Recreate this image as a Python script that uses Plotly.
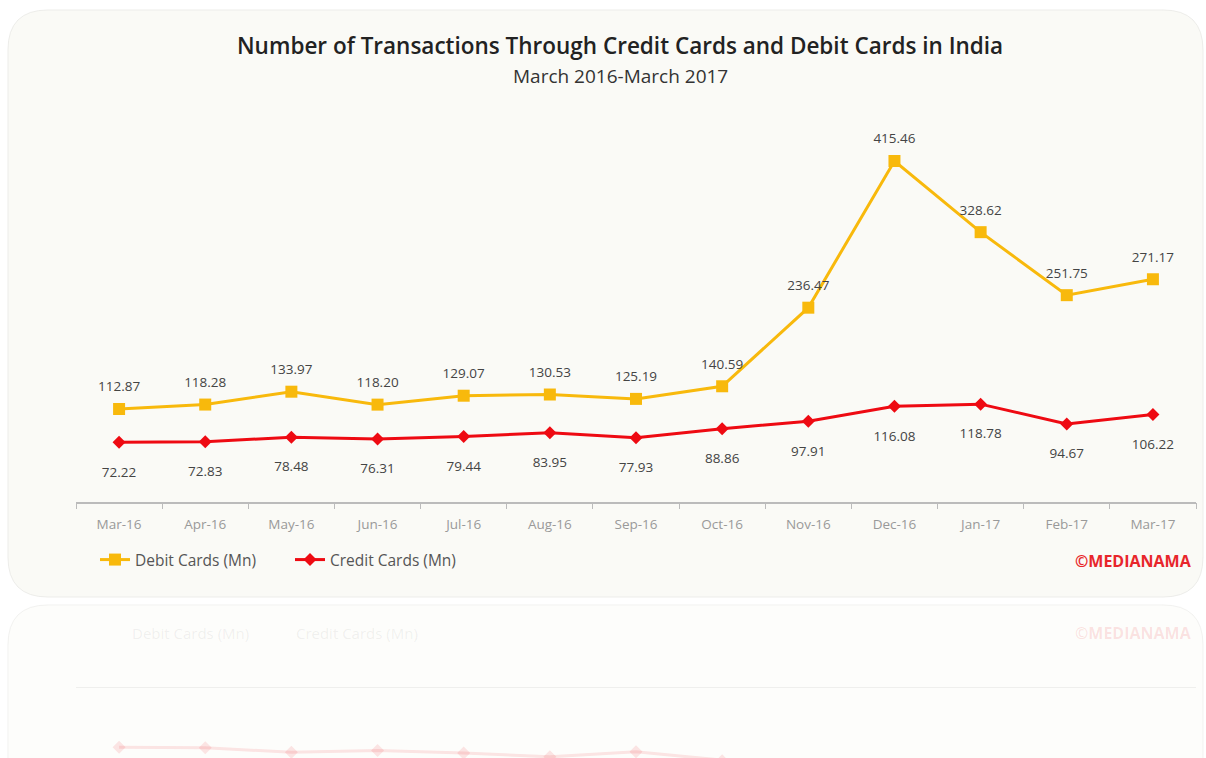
import plotly.graph_objects as go

months = ["Mar-16", "Apr-16", "May-16", "Jun-16", "Jul-16", "Aug-16", "Sep-16",
          "Oct-16", "Nov-16", "Dec-16", "Jan-17", "Feb-17", "Mar-17"]
debit = [112.87, 118.28, 133.97, 118.20, 129.07, 130.53, 125.19,
         140.59, 236.47, 415.46, 328.62, 251.75, 271.17]
credit = [72.22, 72.83, 78.48, 76.31, 79.44, 83.95, 77.93,
          88.86, 97.91, 116.08, 118.78, 94.67, 106.22]

DEBIT_C = "#F8B90C"
CREDIT_C = "#EE0A12"
FONT = "Open Sans"
W, H = 1206, 758

def py(px):
    return (H - px) / H

fig = go.Figure()

# main traces
fig.add_trace(go.Scatter(
    x=months, y=debit, name="Debit Cards (Mn)", mode="lines+markers",
    line=dict(color=DEBIT_C, width=3), marker=dict(symbol="square", size=12, color=DEBIT_C),
    xaxis="x", yaxis="y", cliponaxis=False))
fig.add_trace(go.Scatter(
    x=months, y=credit, name="Credit Cards (Mn)", mode="lines+markers",
    line=dict(color=CREDIT_C, width=3), marker=dict(symbol="diamond", size=10, color=CREDIT_C),
    xaxis="x", yaxis="y", cliponaxis=False))

# data labels (transparent markers set the label offset)
fig.add_trace(go.Scatter(
    x=months, y=debit, mode="markers+text", showlegend=False, hoverinfo="skip",
    marker=dict(size=21, color="rgba(0,0,0,0)"),
    text=[f"{v:.2f}" for v in debit], textposition="top center",
    textfont=dict(family=FONT, size=13.5, color="#444"),
    xaxis="x", yaxis="y", cliponaxis=False))
fig.add_trace(go.Scatter(
    x=months, y=credit, mode="markers+text", showlegend=False, hoverinfo="skip",
    marker=dict(size=37, color="rgba(0,0,0,0)"),
    text=[f"{v:.2f}" for v in credit], textposition="bottom center",
    textfont=dict(family=FONT, size=13.5, color="#444"),
    xaxis="x", yaxis="y", cliponaxis=False))

# faint reflection traces
fig.add_trace(go.Scatter(
    x=months, y=debit, mode="lines+markers", showlegend=False, hoverinfo="skip",
    line=dict(color="rgba(248,185,12,0.10)", width=3),
    marker=dict(symbol="square", size=12, color="rgba(248,185,12,0.10)"),
    xaxis="x2", yaxis="y2"))
fig.add_trace(go.Scatter(
    x=months, y=credit, mode="lines+markers", showlegend=False, hoverinfo="skip",
    line=dict(color="rgba(238,10,18,0.10)", width=3),
    marker=dict(symbol="diamond", size=10, color="rgba(238,10,18,0.10)"),
    xaxis="x2", yaxis="y2"))

x0 = 76 / W
x1 = 1196 / W
scale = 0.8196  # px per unit
ymax = (501.5 - 91.5) / scale
xr = [-0.5, len(months) - 0.5]

fig.update_layout(
    width=W, height=H,
    margin=dict(l=0, r=0, t=0, b=0),
    paper_bgcolor="white", plot_bgcolor="rgba(0,0,0,0)",
    font=dict(family=FONT, color="#444"),
    showlegend=True,
    legend=dict(orientation="h", x=95 / W, y=py(560), xanchor="left", yanchor="middle",
                font=dict(family=FONT, size=15.5, color="#555"), bgcolor="rgba(0,0,0,0)",
                itemwidth=30, tracegroupgap=0, entrywidth=150, entrywidthmode="pixels"),
    xaxis=dict(domain=[x0, x1], type="category", range=xr, showgrid=False, zeroline=False,
               showline=True, linecolor="#BBBBBB", linewidth=1.5,
               ticks="outside", tickson="boundaries", ticklen=6, tickcolor="#BBBBBB",
               ticklabelstandoff=10,
               tickfont=dict(family=FONT, size=13.5, color="#999"), anchor="y"),
    yaxis=dict(domain=[py(501.5), py(91.5)], range=[0, ymax], visible=False,
               showgrid=False, zeroline=False, anchor="x"),
    xaxis2=dict(domain=[x0, x1], type="category", range=xr, showgrid=False, zeroline=False,
                showline=True, linecolor="rgba(187,187,187,0.2)", side="top",
                ticks="", showticklabels=False, anchor="y2"),
    yaxis2=dict(domain=[0, py(688)], range=[(758 - 688) / scale, 0], visible=False,
                showgrid=False, zeroline=False, anchor="x2"),
)

r = 40
def rrect(xa, ya, xb, yb, rad):
    return (f"M {xa+rad},{ya} L {xb-rad},{ya} Q {xb},{ya} {xb},{ya+rad} "
            f"L {xb},{yb-rad} Q {xb},{yb} {xb-rad},{yb} L {xa+rad},{yb} "
            f"Q {xa},{yb} {xa},{yb-rad} L {xa},{ya+rad} Q {xa},{ya} {xa+rad},{ya} Z")

def to_paper_path(xa, ya, xb, yb, rad):
    toks = rrect(xa, ya, xb, yb, rad).replace(",", " ").split()
    i = 0
    res = []
    while i < len(toks):
        t = toks[i]
        if t in ("M", "L", "Q", "Z"):
            res.append(t)
            i += 1
        else:
            xv = float(toks[i]) / W
            yv = (H - float(toks[i + 1])) / H
            res.append(f"{xv:.5f},{yv:.5f}")
            i += 2
    return " ".join(res)

fig.add_shape(type="path", xref="paper", yref="paper",
              path=to_paper_path(8, 10, 1203, 597, r),
              fillcolor="#FAFAF6", line=dict(color="#EDEDEA", width=1), layer="below")
fig.add_shape(type="path", xref="paper", yref="paper",
              path=to_paper_path(8, 605, 1203, 800, r),
              fillcolor="#FDFDFB", line=dict(color="#F2F2F0", width=1), layer="below")

# titles
fig.add_annotation(text="Number of Transactions Through Credit Cards and Debit Cards in India",
                   x=620 / W, y=py(46), xref="paper", yref="paper", showarrow=False,
                   font=dict(family=FONT, size=22.5, color="#222", weight=600),
                   xanchor="center", yanchor="middle")
fig.add_annotation(text="March 2016-March 2017",
                   x=620 / W, y=py(76), xref="paper", yref="paper", showarrow=False,
                   font=dict(family=FONT, size=19, color="#333"), xanchor="center", yanchor="middle")
fig.add_annotation(text="<b>©MEDIANAMA</b>",
                   x=1194 / W, y=py(561), xref="paper", yref="paper", showarrow=False,
                   font=dict(family=FONT, size=16, color="#E8262B"), xanchor="right", yanchor="middle")

# faint reflected legend / brand
fig.add_annotation(text="Debit Cards (Mn)            Credit Cards (Mn)",
                   x=130 / W, y=py(633), xref="paper", yref="paper", showarrow=False,
                   font=dict(family=FONT, size=15, color="rgba(120,120,120,0.10)"),
                   xanchor="left", yanchor="middle")
fig.add_annotation(text="<b>©MEDIANAMA</b>",
                   x=1194 / W, y=py(633), xref="paper", yref="paper", showarrow=False,
                   font=dict(family=FONT, size=16, color="rgba(232,38,43,0.13)"),
                   xanchor="right", yanchor="middle")

fig.write_html("out.html")
